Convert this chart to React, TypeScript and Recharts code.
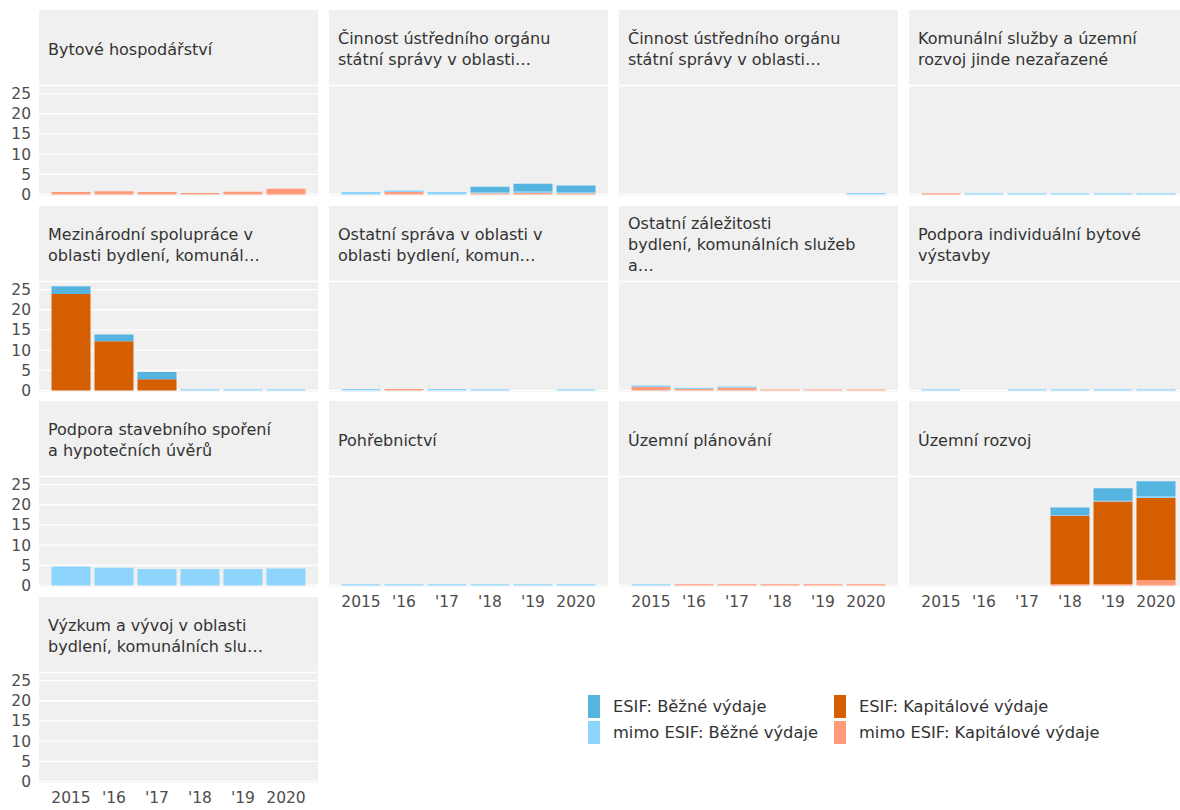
import React from "react";
import { BarChart, Bar, XAxis, YAxis, CartesianGrid } from "recharts";

const years = ["2015", "'16", "'17", "'18", "'19", "2020"];

const titles = [
  "Bytové hospodářství",
  "Činnost ústředního orgánu\nstátní správy v oblasti…",
  "Činnost ústředního orgánu\nstátní správy v oblasti…",
  "Komunální služby a územní\nrozvoj jinde nezařazené",
  "Mezinárodní spolupráce v\noblasti bydlení, komunál…",
  "Ostatní správa v oblasti v\noblasti bydlení, komun…",
  "Ostatní záležitosti\nbydlení, komunálních služeb\na…",
  "Podpora individuální bytové\nvýstavby",
  "Podpora stavebního spoření\na hypotečních úvěrů",
  "Pohřebnictví",
  "Územní plánování",
  "Územní rozvoj",
  "Výzkum a vývoj v oblasti\nbydlení, komunálních slu…",
];

// values per facet (same order as titles), one row = 2015..2020, bn CZK
const mimoKap = [
  [0.6, 0.8, 0.6, 0.4, 0.7, 1.4],
  [0, 0.6, 0, 0.3, 0.4, 0.3],
  [0, 0, 0, 0, 0, 0],
  [0.3, 0, 0, 0, 0, 0],
  [0, 0, 0, 0, 0, 0],
  [0, 0.4, 0, 0, 0, 0],
  [0.85, 0.35, 0.7, 0.25, 0.25, 0.25],
  [0, 0, 0, 0, 0, 0],
  [0, 0, 0, 0, 0, 0],
  [0, 0, 0, 0, 0, 0],
  [0, 0.3, 0.3, 0.3, 0.3, 0.3],
  [0, 0, 0, 0.4, 0.4, 1.3],
  [0, 0, 0, 0, 0, 0],
];
const esifKap = [
  [0, 0, 0, 0, 0, 0],
  [0, 0, 0, 0, 0, 0],
  [0, 0, 0, 0, 0, 0],
  [0, 0, 0, 0, 0, 0],
  [23.9, 12.2, 2.8, 0, 0, 0],
  [0, 0, 0, 0, 0, 0],
  [0, 0, 0, 0, 0, 0],
  [0, 0, 0, 0, 0, 0],
  [0, 0, 0, 0, 0, 0],
  [0, 0, 0, 0, 0, 0],
  [0, 0, 0, 0, 0, 0],
  [0, 0, 0, 16.9, 20.4, 20.4],
  [0, 0, 0, 0, 0, 0],
];
const mimoBezne = [
  [0, 0, 0, 0, 0, 0],
  [0.6, 0.4, 0.6, 0.3, 0.35, 0.3],
  [0, 0, 0, 0, 0, 0.4],
  [0, 0.3, 0.3, 0.3, 0.3, 0.3],
  [0, 0, 0, 0.3, 0.3, 0.3],
  [0.4, 0, 0.4, 0.3, 0, 0.3],
  [0.4, 0.35, 0.3, 0, 0, 0],
  [0.3, 0, 0.3, 0.3, 0.3, 0.3],
  [4.7, 4.4, 4.1, 4.1, 4.1, 4.2],
  [0.3, 0.3, 0.3, 0.3, 0.3, 0.3],
  [0.3, 0, 0, 0, 0, 0],
  [0, 0, 0, 0.1, 0.2, 0.4],
  [0, 0, 0, 0, 0, 0],
];
const esifBezne = [
  [0, 0, 0, 0, 0, 0],
  [0, 0, 0, 1.3, 1.9, 1.6],
  [0, 0, 0, 0, 0, 0],
  [0, 0, 0, 0, 0, 0],
  [1.9, 1.7, 1.8, 0, 0, 0],
  [0, 0, 0, 0, 0, 0],
  [0, 0, 0, 0, 0, 0],
  [0, 0, 0, 0, 0, 0],
  [0, 0, 0, 0, 0, 0],
  [0, 0, 0, 0, 0, 0],
  [0, 0, 0, 0, 0, 0],
  [0, 0, 0, 1.9, 3.1, 3.7],
  [0, 0, 0, 0, 0, 0],
];

const yTicks = [0, 5, 10, 15, 20, 25];

const legendItems = [
  { key: "esifBezne", label: "ESIF: Běžné výdaje" },
  { key: "esifKap", label: "ESIF: Kapitálové výdaje" },
  { key: "mimoBezne", label: "mimo ESIF: Běžné výdaje" },
  { key: "mimoKap", label: "mimo ESIF: Kapitálové výdaje" },
];

const colors: Record<string, string> = {
  esifBezne: "#56B4E0",
  esifKap: "#D55E00",
  mimoBezne: "#8DD5FC",
  mimoKap: "#FF9B7A",
};

const FONT = '"DejaVu Sans", "Liberation Sans", sans-serif';
const PANEL_W = 279;
const COL_STEP = 290;
const ROW_STEP = 195.5;
const LEFT0 = 39;
const TOP0 = 10;
const STRIP_H = 75.5;
const PLOT_H = 109;
const tickStyle = { fill: "#4D4D4D", fontSize: 15.5, fontFamily: FONT };

function Facet({ i }: { i: number }) {
  const row = Math.floor(i / 4);
  const col = i % 4;
  const showY = col === 0;
  const showX = i + 4 >= titles.length;
  const left = LEFT0 + col * COL_STEP;
  const top = TOP0 + row * ROW_STEP;
  const yw = showY ? 39 : 0;
  const bottomPad = showX ? 0 : 10;

  const data = years.map((year, k) => ({
    year,
    mimoKap: mimoKap[i][k],
    esifKap: esifKap[i][k],
    mimoBezne: mimoBezne[i][k],
    esifBezne: esifBezne[i][k],
  }));

  return (
    <>
      <div
        style={{
          position: "absolute",
          left,
          top,
          width: PANEL_W,
          height: STRIP_H + PLOT_H + 1.5,
          background: "#F0F0F0",
        }}
      />
      <div
        style={{
          position: "absolute",
          left: left + 9,
          top,
          height: 78,
          display: "flex",
          alignItems: "center",
          whiteSpace: "pre-line",
          fontSize: 16,
          lineHeight: "21px",
          color: "#333",
        }}
      >
        {titles[i]}
      </div>
      <div style={{ position: "absolute", left: left - yw, top }}>
        <BarChart
          width={PANEL_W + yw}
          height={STRIP_H + PLOT_H + (showX ? 30 : bottomPad)}
          data={data}
          margin={{ top: STRIP_H, right: 0, bottom: bottomPad, left: 0 }}
        >
          <CartesianGrid vertical={false} stroke="#ffffff" strokeWidth={1.3} />
          <XAxis
            dataKey="year"
            hide={!showX}
            height={30}
            interval={0}
            tickLine={false}
            axisLine={false}
            padding={{ left: 10.5, right: 10.5 }}
            tickMargin={4}
            tick={tickStyle}
          />
          <YAxis
            width={yw}
            domain={[0, 27]}
            ticks={yTicks}
            interval={0}
            tickLine={false}
            axisLine={false}
            tick={showY ? tickStyle : false}
          />
          <Bar dataKey="mimoKap" stackId="a" fill={colors.mimoKap} barSize={39} isAnimationActive={false} />
          <Bar dataKey="esifKap" stackId="a" fill={colors.esifKap} barSize={39} isAnimationActive={false} />
          <Bar dataKey="mimoBezne" stackId="a" fill={colors.mimoBezne} barSize={39} isAnimationActive={false} />
          <Bar dataKey="esifBezne" stackId="a" fill={colors.esifBezne} barSize={39} isAnimationActive={false} />
        </BarChart>
      </div>
    </>
  );
}

export default function App() {
  return (
    <div
      style={{
        position: "absolute",
        left: 0,
        top: 0,
        width: 1180,
        height: 810,
        background: "#fff",
        fontFamily: FONT,
        overflow: "hidden",
      }}
    >
      {titles.map((_, i) => (
        <Facet key={i} i={i} />
      ))}
      <div
        style={{
          position: "absolute",
          left: 588,
          top: 694,
          display: "grid",
          gridTemplateColumns: "246px 280px",
          rowGap: 2,
          fontSize: 16.3,
          color: "#333",
        }}
      >
        {legendItems.map((it) => (
          <div key={it.key} style={{ display: "flex", alignItems: "center", height: 24, whiteSpace: "nowrap" }}>
            <span style={{ width: 12, height: 23, background: colors[it.key], marginRight: 13, flex: "none" }} />
            <span>{it.label}</span>
          </div>
        ))}
      </div>
    </div>
  );
}
